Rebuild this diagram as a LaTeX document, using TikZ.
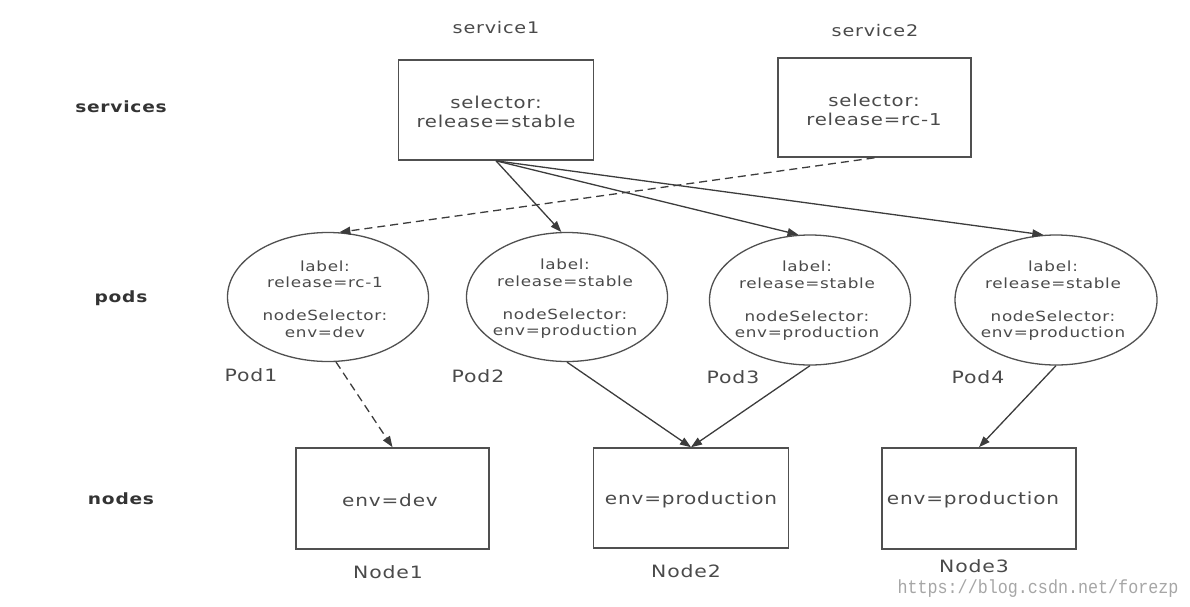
\documentclass[tikz,border=0pt]{standalone}
\usepackage{fontspec}
\setmainfont{DejaVu Sans}[FakeStretch=1.2,LetterSpace=5]
\newfontfamily\wmfont{Liberation Mono}[FakeStretch=0.88]
\usetikzlibrary{arrows.meta,shapes.geometric,calc}
\definecolor{ink}{HTML}{4A4A4A}
\definecolor{linec}{HTML}{505050}
\definecolor{arrc}{HTML}{3C3C3C}
\begin{document}
\begin{tikzpicture}[x=1pt,y=-1pt,
  box/.style={draw=linec, line width=1.6pt, inner sep=0pt},
  pod/.style={draw=linec, line width=1.3pt, ellipse, inner sep=0pt, minimum width=201pt, minimum height=129pt},
  svctext/.style={text=ink, font=\fontsize{16.4}{19.5}\selectfont, align=center},
  podtext/.style={text=ink, font=\fontsize{14}{16.5}\selectfont, align=center},
  nodetext/.style={text=ink, font=\fontsize{16.7}{20}\selectfont},
  svctitle/.style={text=ink, font=\fontsize{16}{19}\selectfont},
  title/.style={text=ink, font=\fontsize{17}{20}\selectfont},
  rowlabel/.style={text=black!80, font=\bfseries\fontsize{15.5}{18}\selectfont},
  arr/.style={draw=arrc, line width=1.3pt, -{Triangle[length=11pt,width=8pt]}},
  darr/.style={arr, dash pattern=on 8pt off 5pt},
]
\useasboundingbox (0,0) rectangle (1190,606);

% row labels
\node[rowlabel] (lsvc) at (121,107) {services};
\node[rowlabel] (lpod) at (121,298) {pods};
\node[rowlabel] (lnod) at (121,499) {nodes};

% services
\node[svctitle] (ts1) at (496,28) {service1};
\node[svctitle] (ts2) at (875,31) {service2};
\node[box, minimum width=195pt, minimum height=100pt] (s1) at (496,110) {};
\node[svctext] (s1t) at (496,112) {selector:\\release=stable};
\node[box, minimum width=193pt, minimum height=99pt] (s2) at (874.5,107.5) {};
\node[svctext] (s2t) at (874,110) {selector:\\release=rc-1};

% pods
\node[pod] (pod1) at (328,297) {};
\node[pod] (pod2) at (567,297) {};
\node[pod, minimum height=130pt] (pod3) at (810,300) {};
\node[pod, minimum width=202pt, minimum height=130pt] (pod4) at (1056,300) {};
\node[podtext] (p1t) at (325,299) {label:\\release=rc-1\\[16.5pt]nodeSelector:\\env=dev};
\node[podtext] (p2t) at (565,299) {label:\\release=stable\\[16.5pt]nodeSelector:\\env=production};
\node[podtext] (p3t) at (807,301) {label:\\release=stable\\[16.5pt]nodeSelector:\\env=production};
\node[podtext] (p4t) at (1053,301) {label:\\release=stable\\[16.5pt]nodeSelector:\\env=production};
\node[title] (lp1) at (251,375) {Pod1};
\node[title] (lp2) at (478,376) {Pod2};
\node[title] (lp3) at (733,377) {Pod3};
\node[title] (lp4) at (978,377) {Pod4};

% nodes
\node[box, minimum width=193pt, minimum height=101pt] (n1) at (392.5,498.5) {};
\node[box, minimum width=195pt, minimum height=100pt] (n2) at (691,498) {};
\node[box, minimum width=194pt, minimum height=101pt] (n3) at (979,498.5) {};
\node[nodetext] (n1t) at (390,500) {env=dev};
\node[nodetext] (n2t) at (691,500) {env=production};
\node[nodetext] (n3t) at (973,500) {env=production};
\node[title] (ln1) at (388,572) {Node1};
\node[title] (ln2) at (686,571) {Node2};
\node[title] (ln3) at (974,566) {Node3};

% connectors
\draw[arr] (s1.south) -- (pod2.95);
\draw[arr] (s1.south) -- (pod3.100);
\draw[arr] (s1.south) -- (pod4.101);
\draw[darr] (s2.south) -- (pod1.80);
\draw[darr] (pod1.-83) -- (n1.north);
\draw[arr] (pod2.south) -- (n2.north);
\draw[arr] (pod3.south) -- (n2.north);
\draw[arr] (pod4.south) -- (n3.north);

% watermark
\node[text=black!35, font=\wmfont\fontsize{19}{21}\selectfont, inner sep=0pt] (wm) at (1038,589) {https://blog.csdn.net/forezp};
\end{tikzpicture}
\end{document}
